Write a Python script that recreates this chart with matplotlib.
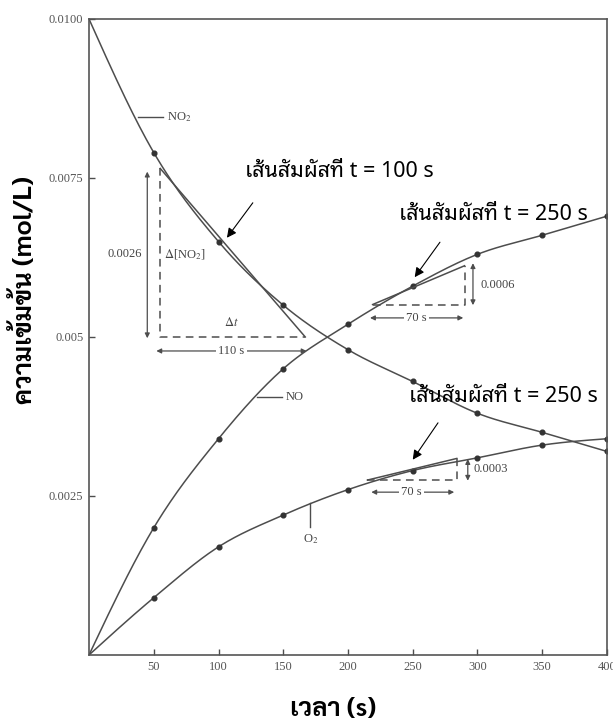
import numpy as np
import matplotlib
matplotlib.use('Agg')
from matplotlib import pyplot as plt

plt.rcParams['mathtext.fontset'] = 'stix'

# data (2NO2 -> 2NO + O2)
time = [0, 50, 100, 150, 200, 250, 300, 350, 400]
no2 = [0.0100, 0.0079, 0.0065, 0.0055, 0.0048, 0.0043, 0.0038, 0.0035, 0.0032]
no = [0.0, 0.0020, 0.0034, 0.0045, 0.0052, 0.0058, 0.0063, 0.0066, 0.0069]
o2 = [0.0, 0.0009, 0.0017, 0.0022, 0.0026, 0.0029, 0.0031, 0.0033, 0.0034]

# tangent lines (start, end)
tan_no2_t = [55, 167]
tan_no2_c = [0.00765, 0.0050]
tan_no_t = [219, 290]
tan_no_c = [0.00551, 0.00612]
tan_o2_t = [215, 284]
tan_o2_c = [0.00275, 0.00309]

xticks = [50, 100, 150, 200, 250, 300, 350, 400]
yticks = [0.0025, 0.005, 0.0075, 0.0100]
yticklabels = ['0.0025', '0.005', '0.0075', '0.0100']

LINE = '#4d4d4d'
SERIF = 'Liberation Serif'
THAI = ['Noto Sans Thai Looped', 'DejaVu Sans']
THAI_B = ['Sarabun', 'DejaVu Sans']


def smooth(x, y, n=300):
    # cubic hermite curve through the points, only for drawing
    x = np.asarray(x, float)
    y = np.asarray(y, float)
    h = np.diff(x)
    d = np.diff(y) / h
    m = np.zeros_like(y)
    m[1:-1] = (d[:-1] + d[1:]) / 2
    m[0] = (3 * d[0] - m[1]) / 2
    m[-1] = (3 * d[-1] - m[-2]) / 2
    xs = np.linspace(x[0], x[-1], n)
    i = np.clip(np.searchsorted(x, xs) - 1, 0, len(x) - 2)
    s = (xs - x[i]) / h[i]
    h00 = 2 * s**3 - 3 * s**2 + 1
    h10 = s**3 - 2 * s**2 + s
    h01 = -2 * s**3 + 3 * s**2
    h11 = s**3 - s**2
    ys = h00 * y[i] + h10 * h[i] * m[i] + h01 * y[i + 1] + h11 * h[i] * m[i + 1]
    return xs, ys


fig = plt.figure(figsize=(6.13, 7.25), dpi=100)
ax = fig.add_axes([0.1452, 0.0966, 0.845, 0.8772])

for vals in (no2, no, o2):
    xs, ys = smooth(time, vals)
    ax.plot(xs, ys, color=LINE, lw=1.1)
    ax.plot(time[1:], vals[1:], 'o', color='#333333', ms=3.4)

dash = (0, (5, 3.5))
# tangents + dashed legs
ax.plot(tan_no2_t, tan_no2_c, color=LINE, lw=1.1)
ax.plot([tan_no2_t[0], tan_no2_t[0], tan_no2_t[1]], [tan_no2_c[0], tan_no2_c[1], tan_no2_c[1]],
        color=LINE, lw=1.1, ls=dash)
for tt, cc in ((tan_no_t, tan_no_c), (tan_o2_t, tan_o2_c)):
    ax.plot(tt, cc, color=LINE, lw=1.1)
    ax.plot([tt[0], tt[1], tt[1]], [cc[0], cc[0], cc[1]], color=LINE, lw=1.1, ls=dash)

small = dict(fontsize=9, family=SERIF, color='#444444')
arr = dict(arrowstyle='<|-|>', color=LINE, lw=0.9, mutation_scale=7, shrinkA=0, shrinkB=0)
gap = dict(fc='white', ec='none', pad=1.5)

# NO2 triangle
ax.annotate('', xy=(45, 0.0076), xytext=(45, 0.00498), arrowprops=arr)
ax.text(41, 0.0063, '0.0026', ha='right', va='center', **small)
ax.text(58, 0.0063, r'$\Delta$[NO$_2$]', ha='left', va='center', **small)
ax.text(110, 0.00512, r'$\Delta t$', ha='center', va='bottom', **small)
ax.annotate('', xy=(52, 0.00478), xytext=(168, 0.00478), arrowprops=arr)
ax.text(110, 0.00478, '110 s', ha='center', va='center', bbox=gap, **small)

# NO triangle
ax.annotate('', xy=(296.5, 0.00616), xytext=(296.5, 0.00550), arrowprops=arr)
ax.text(302, 0.00582, '0.0006', ha='left', va='center', **small)
ax.annotate('', xy=(217, 0.0053), xytext=(289, 0.0053), arrowprops=arr)
ax.text(253, 0.0053, '70 s', ha='center', va='center', bbox=gap, **small)

# O2 triangle
ax.annotate('', xy=(292.5, 0.00308), xytext=(292.5, 0.00274), arrowprops=arr)
ax.text(297, 0.00292, '0.0003', ha='left', va='center', **small)
ax.annotate('', xy=(218, 0.00256), xytext=(282, 0.00256), arrowprops=arr)
ax.text(249, 0.00256, '70 s', ha='center', va='center', bbox=gap, **small)

# curve labels
ax.plot([38, 57], [0.00846, 0.00846], color=LINE, lw=1)
ax.text(60, 0.00846, r'NO$_2$', ha='left', va='center', **small)
ax.plot([130, 149], [0.00406, 0.00406], color=LINE, lw=1)
ax.text(152, 0.00406, 'NO', ha='left', va='center', **small)
ax.plot([171, 171], [0.00239, 0.00201], color=LINE, lw=1)
ax.text(171, 0.00193, r'O$_2$', ha='center', va='top', **small)

# Thai tangent notes
thai_arr = dict(arrowstyle='-|>', color='black', lw=0.8, mutation_scale=14, shrinkA=0, shrinkB=0)
ax.annotate('', xy=(106.5, 0.00656), xytext=(126.5, 0.00711), arrowprops=thai_arr)
ax.text(193, 0.0076, 'เส้นสัมผัสที่ t = 100 s', ha='center', va='center', fontsize=15.5, family=THAI)
ax.annotate('', xy=(251.5, 0.00594), xytext=(271, 0.00649), arrowprops=thai_arr)
ax.text(312, 0.00692, 'เส้นสัมผัสที่ t = 250 s', ha='center', va='center', fontsize=15.5, family=THAI)
ax.annotate('', xy=(250, 0.00307), xytext=(269.5, 0.00365), arrowprops=thai_arr)
ax.text(320, 0.00407, 'เส้นสัมผัสที่ t = 250 s', ha='center', va='center', fontsize=15.5, family=THAI)

ax.set_xlim(0, 400)
ax.set_ylim(0, 0.0100)
ax.set_xticks(xticks)
ax.set_xticklabels([str(v) for v in xticks], family=SERIF, fontsize=9, color='#555555')
ax.set_yticks(yticks)
ax.set_yticklabels(yticklabels, family=SERIF, fontsize=9, color='#555555')
ax.tick_params(direction='in', length=4, width=1, color=LINE, pad=4)
for sp in ax.spines.values():
    sp.set_color('#555555')
    sp.set_linewidth(1.2)

ax.set_xlabel('เวลา (s)', family=THAI_B, fontweight='bold', fontsize=18.5, va='center')
ax.xaxis.set_label_coords(0.471, -0.0865)
ax.set_ylabel('ความเข้มข้น (mol/L)', family=THAI_B, fontweight='bold', fontsize=18.5, va='center')
ax.yaxis.set_label_coords(-0.1236, 0.574)

fig.savefig('out.png')
